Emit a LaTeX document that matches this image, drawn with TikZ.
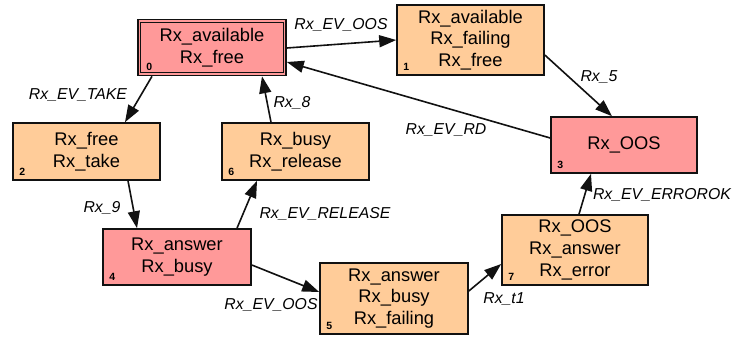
\documentclass[tikz,border=0pt]{standalone}
\usepackage{fontspec}
\setmainfont{Liberation Sans}
\usetikzlibrary{arrows.meta}
\definecolor{orangefill}{HTML}{FFCC99}
\definecolor{pinkfill}{HTML}{FF9999}
\definecolor{edgecol}{HTML}{111111}
\tikzset{
  state/.style={draw=edgecol, line width=1.6pt, rectangle, align=center, inner sep=0pt,
    minimum width=147pt, font=\fontsize{18.3}{21.7}\selectfont},
  okstate/.style={state, fill=orangefill},
  badstate/.style={state, fill=pinkfill},
  numlbl/.style={font=\fontsize{10.5}{12}\selectfont\bfseries, inner sep=0pt},
  elbl/.style={font=\fontsize{15.8}{19}\selectfont\itshape, inner sep=0pt},
  conn/.style={draw=edgecol, line width=1.6pt, -{Triangle[length=17pt,width=12pt]}}
}
\begin{document}
\begin{tikzpicture}[x=1pt,y=-1pt]
\useasboundingbox (0,0) rectangle (732,337);
% nodes
\node[badstate, minimum width=148pt, minimum height=56pt] (n0) at (212,47.5) {Rx\_available\\Rx\_free};
\draw[edgecol, line width=1.3pt] ([xshift=3.5pt,yshift=-3.5pt]n0.north west) rectangle ([xshift=-3.5pt,yshift=3.5pt]n0.south east);
\node[okstate, minimum height=70pt] (n1) at (470.5,40) {Rx\_available\\Rx\_failing\\Rx\_free};
\node[okstate, minimum height=57pt] (n2) at (86.5,151.5) {Rx\_free\\Rx\_take};
\node[okstate, minimum height=57pt] (n6) at (295.5,151.5) {Rx\_busy\\Rx\_release};
\node[badstate, minimum width=146pt, minimum height=56pt] (n3) at (624,145) {Rx\_OOS};
\node[okstate, minimum width=146pt, minimum height=70pt] (n7) at (575,250) {Rx\_OOS\\Rx\_answer\\Rx\_error};
\node[badstate, minimum width=148pt, minimum height=56pt] (n4) at (177,257) {Rx\_answer\\Rx\_busy};
\node[okstate, minimum width=148pt, minimum height=71pt] (n5) at (394,298.5) {Rx\_answer\\Rx\_busy\\Rx\_failing};
% number labels
\node[numlbl] (l0) at ([xshift=12pt,yshift=9pt]n0.south west) {0};
\node[numlbl] (l1) at ([xshift=10pt,yshift=9pt]n1.south west) {1};
\node[numlbl] (l2) at ([xshift=10pt,yshift=9pt]n2.south west) {2};
\node[numlbl] (l6) at ([xshift=10pt,yshift=9pt]n6.south west) {6};
\node[numlbl] (l3) at ([xshift=10pt,yshift=9pt]n3.south west) {3};
\node[numlbl] (l7) at ([xshift=10pt,yshift=9pt]n7.south west) {7};
\node[numlbl] (l4) at ([xshift=10pt,yshift=9pt]n4.south west) {4};
\node[numlbl] (l5) at ([xshift=10pt,yshift=9pt]n5.south west) {5};
% connectors
\draw[conn] ([yshift=-0.5pt]n0.east) -- (n1.west);
\draw[conn] ([yshift=-15pt]n1.east) -- ([xshift=-12pt]n3.north);
\draw[conn] ([yshift=7pt]n3.west) -- ([yshift=-14.5pt]n0.east);
\draw[conn] ([xshift=-60pt]n0.south) -- ([xshift=38.5pt]n2.north);
\draw[conn] ([xshift=41.5pt]n2.south) -- ([xshift=-40pt]n4.north);
\draw[conn] ([xshift=60pt]n4.north) -- ([xshift=-38.5pt]n6.south);
\draw[conn] ([xshift=-24.5pt]n6.north) -- ([xshift=50pt]n0.south);
\draw[conn] ([yshift=-8pt]n4.east) -- ([yshift=6.5pt]n5.west);
\draw[conn] ([yshift=7.5pt]n5.east) -- ([yshift=-14pt]n7.west);
\draw[conn] ([xshift=4pt]n7.north) -- ([xshift=-33pt]n3.south);
% edge labels
\node[elbl] (e01) at (341,25) {Rx\_EV\_OOS};
\node[elbl] (e13) at (599,77) {Rx\_5};
\node[elbl] (e30) at (446,130) {Rx\_EV\_RD};
\node[elbl] (e02) at (78,95) {Rx\_EV\_TAKE};
\node[elbl] (e60) at (292,103) {Rx\_8};
\node[elbl] (e24) at (102,208) {Rx\_9};
\node[elbl] (e46) at (325,214) {Rx\_EV\_RELEASE};
\node[elbl] (e45) at (271,305) {Rx\_EV\_OOS};
\node[elbl] (e57) at (504,299) {Rx\_t1};
\node[elbl] (e73) at (662,195) {Rx\_EV\_ERROROK};
\end{tikzpicture}
\end{document}
